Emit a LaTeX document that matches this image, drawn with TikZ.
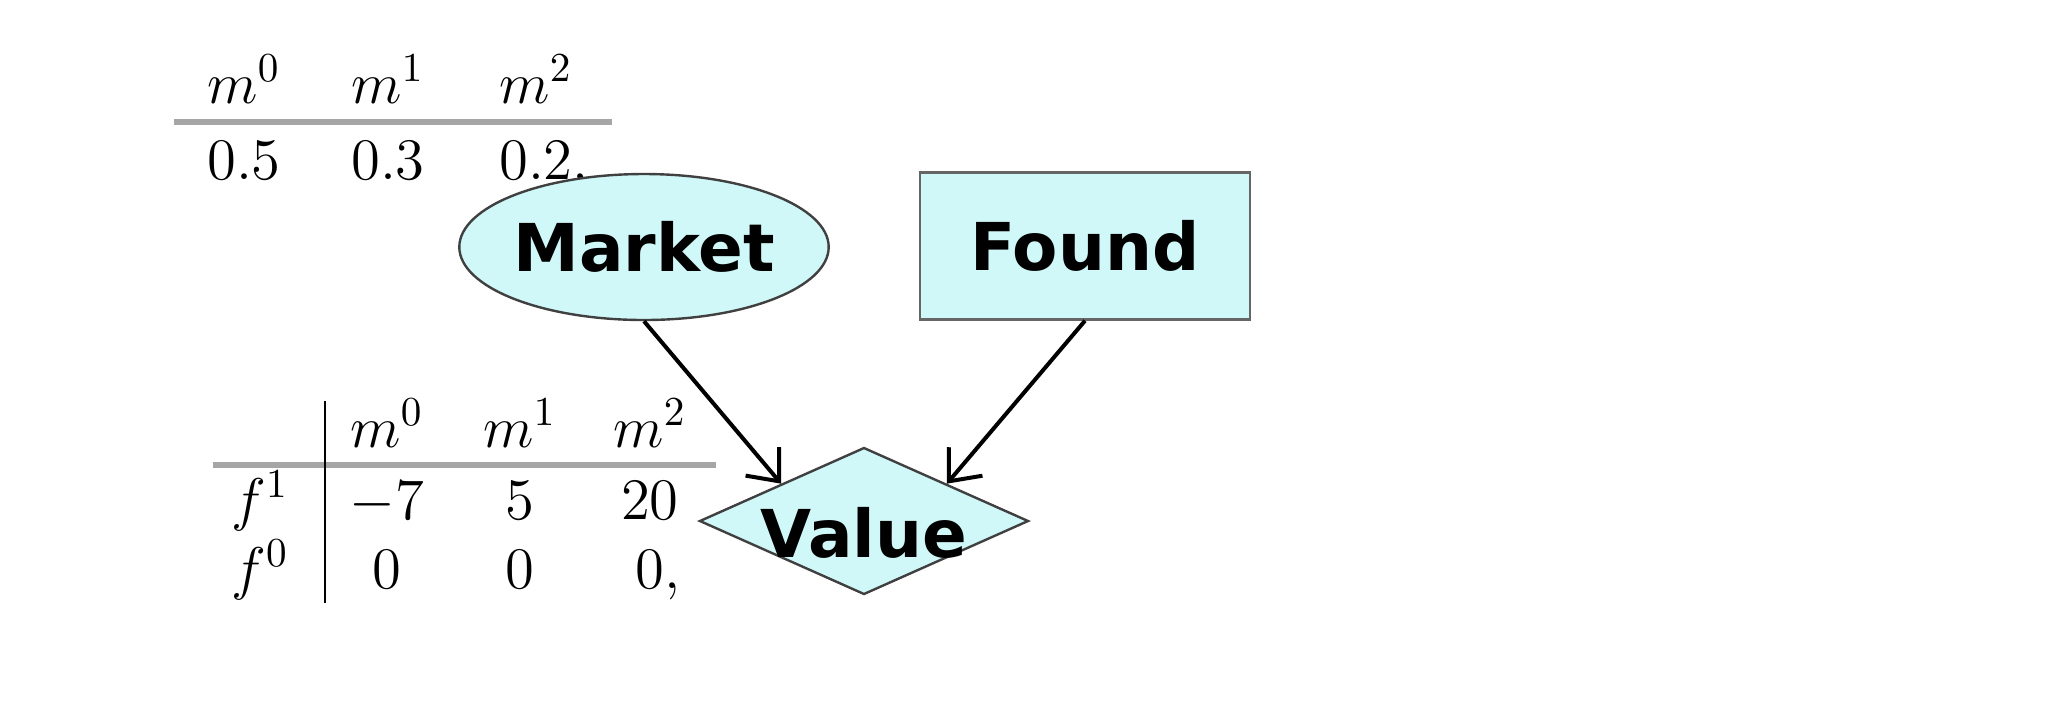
\RequirePackage{fix-cm}
\documentclass[tikz,border=0pt]{standalone}
\usepackage{fontspec}
\usetikzlibrary{shapes.geometric,arrows.meta}
\newfontfamily\labelfont{DejaVu Sans}
\definecolor{nodecyan}{RGB}{208,248,248}

\begin{document}
\begin{tikzpicture}[x=0.25pt,y=-0.25pt,
    cell/.style={anchor=base,inner sep=0pt,font=\fontsize{14.7}{17}\selectfont},
    tablerule/.style={gray!70,line width=1.3pt},
    chance/.style={ellipse,draw=black!75,line width=0.6pt,fill=nodecyan,inner sep=0pt,
      minimum width=92pt,minimum height=36.5pt,font=\labelfont\bfseries\fontsize{16.5}{20}\selectfont},
    decision/.style={rectangle,draw=black!60,line width=0.6pt,fill=nodecyan,inner sep=0pt,
      minimum width=82.5pt,minimum height=36.75pt,font=\labelfont\bfseries\fontsize{16.5}{20}\selectfont},
    utility/.style={diamond,shape aspect=2.24,draw=black!75,line width=0.6pt,fill=nodecyan,inner sep=0pt,
      minimum width=82.25pt,minimum height=36.75pt,font=\labelfont\bfseries\fontsize{16.5}{20}\selectfont},
    arc/.style={line width=1pt,-{Straight Barb[length=6.5pt,width=11pt]}}]
  \useasboundingbox (0,0) rectangle (2049,711);
  % prior on market
  \node[cell] (pm0) at (244,103) {$m^0$};
  \node[cell] (pm1) at (388,103) {$m^1$};
  \node[cell] (pm2) at (536,103) {$m^2$};
  \draw[tablerule] (174,122)--(612,122);
  \node[cell] (p0) at (244,179) {$0.5$};
  \node[cell] (p1) at (388,179) {$0.3$};
  \node[cell] (p2) at (536,179) {$0.2\rlap{,}$};
  % utility table
  \node[cell] (um0) at (387,447) {$m^0$};
  \node[cell] (um1) at (520,447) {$m^1$};
  \node[cell] (um2) at (650,447) {$m^2$};
  \draw[tablerule] (213,465)--(716,465);
  \draw (325,401)--(325,603);
  \node[cell] (f1) at (260,519) {$f^1$};
  \node[cell] (u10) at (387,519) {$-7$};
  \node[cell] (u11) at (520,519) {$5$};
  \node[cell] (u12) at (650,519) {$20$};
  \node[cell] (f0) at (260,588) {$f^0$};
  \node[cell] (u00) at (387,588) {$0$};
  \node[cell] (u01) at (520,588) {$0$};
  \node[cell] (u02) at (650,588) {$0\rlap{,}$};
  % network
  \node[chance] (market) at (644,247) {Market};
  \node[decision] (found) at (1085,246) {Found};
  \node[utility] (value) at (864,521) {\raisebox{-3pt}[\height][\depth]{Value}};
  \draw[arc] (market.south)--(value.north west);
  \draw[arc] (found.south)--(value.north east);
\end{tikzpicture}
\end{document}
